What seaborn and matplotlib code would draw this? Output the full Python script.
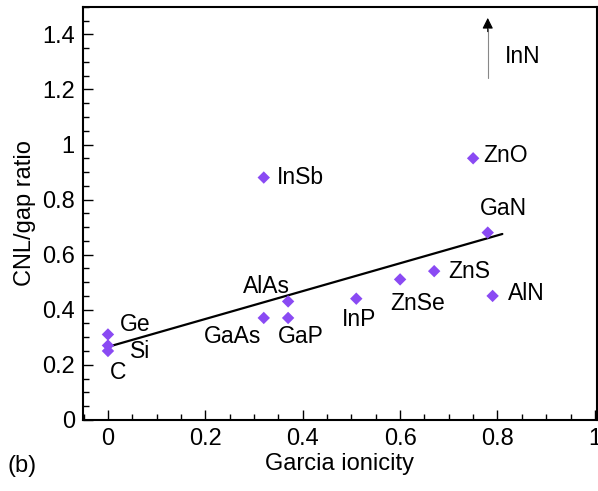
import matplotlib
matplotlib.use("Agg")
import matplotlib.pyplot as plt
import matplotlib.ticker as mticker
import numpy as np
import pandas as pd
import seaborn as sns

# Data
materials = ["C", "Si", "Ge", "GaAs", "GaP", "AlAs", "InSb", "InP",
             "ZnSe", "ZnS", "ZnO", "GaN", "AlN"]
ionicity = [0.0, 0.0, 0.0, 0.32, 0.37, 0.37, 0.32, 0.51,
            0.60, 0.67, 0.75, 0.78, 0.79]
cnl_gap = [0.25, 0.27, 0.31, 0.37, 0.37, 0.43, 0.88, 0.44,
           0.51, 0.54, 0.95, 0.68, 0.45]

# label anchor positions (data coords) and alignment
label_x = [0.02, 0.045, 0.025, 0.255, 0.35, 0.326, 0.347, 0.48,
           0.58, 0.698, 0.77, 0.813, 0.822]
label_y = [0.172, 0.249, 0.345, 0.303, 0.303, 0.486, 0.88, 0.363,
           0.421, 0.538, 0.959, 0.768, 0.46]
label_ha = ["center", "left", "left", "center", "left", "center", "left", "left",
            "left", "left", "left", "center", "left"]

# fit line endpoints
fit_x = [0.0, 0.81]
fit_y = [0.265, 0.675]

# InN off-scale arrow
inn_x = 0.78
inn_y0, inn_y1 = 1.24, 1.47

df = pd.DataFrame({"material": materials, "ionicity": ionicity, "ratio": cnl_gap})

sns.set_style("white")
plt.rcParams["font.family"] = ["Liberation Sans", "DejaVu Sans"]
plt.rcParams.update({
    "text.color": "black",
    "axes.labelcolor": "black",
    "xtick.color": "black",
    "ytick.color": "black",
})

FS = 17

fig = plt.figure(figsize=(5.98, 4.91), dpi=100)
ax = fig.add_axes([0.139, 0.145, 0.859, 0.841])

sns.lineplot(x=fit_x, y=fit_y, color="black", linewidth=1.6, ax=ax)
sns.scatterplot(data=df, x="ionicity", y="ratio", marker="D", s=40,
                color="#8a4af3", edgecolor="none", ax=ax, zorder=3)

for name, lx, ly, ha in zip(materials, label_x, label_y, label_ha):
    ax.text(lx, ly, name, ha=ha, va="center", fontsize=16.5)

# InN arrow (value beyond scale)
ax.plot([inn_x, inn_x], [inn_y0, inn_y1 - 0.05], color="#888888", linewidth=0.8)
ax.annotate("", xy=(inn_x, inn_y1), xytext=(inn_x, inn_y1 - 0.07),
            arrowprops=dict(arrowstyle="-|>", color="black", lw=0.8,
                            mutation_scale=16))
ax.text(0.815, 1.32, "InN", ha="left", va="center", fontsize=16.5)

ax.set_xlim(-0.051, 1.004)
ax.set_ylim(0, 1.5)
ax.xaxis.set_major_locator(mticker.MultipleLocator(0.2))
ax.xaxis.set_minor_locator(mticker.MultipleLocator(0.05))
ax.yaxis.set_major_locator(mticker.MultipleLocator(0.2))
ax.yaxis.set_minor_locator(mticker.MultipleLocator(0.05))
ax.xaxis.set_major_formatter(mticker.FormatStrFormatter("%g"))
ax.yaxis.set_major_formatter(mticker.FormatStrFormatter("%g"))
ax.tick_params(which="both", direction="in", top=False, right=False,
               bottom=True, left=True, labelsize=FS, width=1)
ax.tick_params(which="major", length=7, pad=6)
ax.tick_params(which="minor", length=4)

for spine in ax.spines.values():
    spine.set_linewidth(1.5)
    spine.set_color("black")

ax.set_xlabel("Garcia ionicity", fontsize=FS, labelpad=2)
ax.set_ylabel("CNL/gap ratio", fontsize=FS, labelpad=4)
fig.text(0.013, 0.05, "(b)", fontsize=FS, ha="left", va="center")

fig.savefig("out.png", dpi=100)
plt.close(fig)
